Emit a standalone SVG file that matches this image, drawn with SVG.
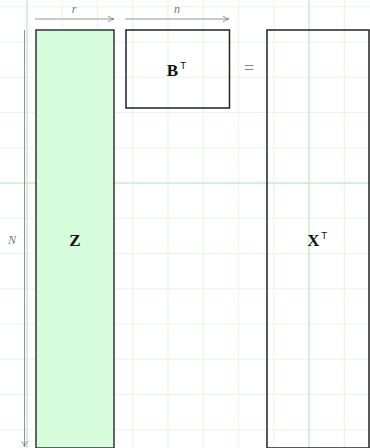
<svg xmlns="http://www.w3.org/2000/svg" width="370" height="448" viewBox="0 0 370 448">
<defs>
<style>
.minor{stroke:#e6f7ea;stroke-width:1.2}
.major{stroke:#c4ecce;stroke-width:1.4}
.box{stroke:#222;stroke-width:1.5;fill:none}
.dim{stroke:#888;stroke-width:0.9;fill:none}
.lbl{font-family:"Liberation Serif","DejaVu Serif",serif;font-style:italic;font-size:12px;fill:#777}
.mat{font-family:"Liberation Serif","DejaVu Serif",serif;font-weight:bold;font-size:17px;fill:#111}
.sup{font-family:"DejaVu Sans",sans-serif;font-size:9px;fill:#111}
</style>
<marker id="ah" viewBox="0 0 8 8" refX="7" refY="4" markerWidth="8" markerHeight="8" markerUnits="userSpaceOnUse" orient="auto">
<path d="M1,1 Q4,3.5 7,4 Q4,4.5 1,7" fill="none" stroke="#888" stroke-width="0.9"/>
</marker>
</defs>
<rect width="370" height="448" fill="#fff"/>
<g id="grid">
<path class="minor" d="M62.25,0V448M97.5,0V448M132.75,0V448M168,0V448M203.25,0V448M238.5,0V448M273.75,0V448M344.25,0V448M0,6.75H370M0,42H370M0,77.25H370M0,112.5H370M0,147.75H370M0,218.25H370M0,253.5H370M0,288.75H370M0,324H370M0,359.25H370M0,394.5H370M0,429.75H370"/>
<path class="major" d="M27,0V448M309,0V448M0,183H370"/>
</g>
<g id="Z">
<rect x="36" y="30" width="78" height="418" fill="#d6fcdc" stroke="#333" stroke-width="1.5"/>
<text class="mat" x="75" y="246" text-anchor="middle">Z</text>
</g>
<g id="B">
<rect class="box" x="126" y="30" width="103.5" height="78"/>
<text class="mat" x="172.5" y="76" text-anchor="middle">B</text>
<text class="sup" x="180.5" y="69">T</text>
</g>
<g id="eq">
<text x="249" y="74" text-anchor="middle" font-family="Liberation Serif,DejaVu Serif,serif" font-size="18" fill="#888">=</text>
</g>
<g id="X">
<rect class="box" x="267" y="30" width="102" height="418"/>
<text class="mat" x="313.5" y="246" text-anchor="middle">X</text>
<text class="sup" x="321.5" y="239">T</text>
</g>
<g id="connectors">
<line class="dim" x1="35" y1="19" x2="114" y2="19" marker-end="url(#ah)"/>
<line class="dim" x1="125" y1="19" x2="229" y2="19" marker-end="url(#ah)"/>
<line class="dim" x1="24.5" y1="30" x2="24.5" y2="447" marker-end="url(#ah)"/>
</g>
<g id="labels">
<text class="lbl" x="74" y="13" text-anchor="middle">r</text>
<text class="lbl" x="177" y="13" text-anchor="middle">n</text>
<text class="lbl" x="12" y="244" text-anchor="middle">N</text>
</g>
</svg>
